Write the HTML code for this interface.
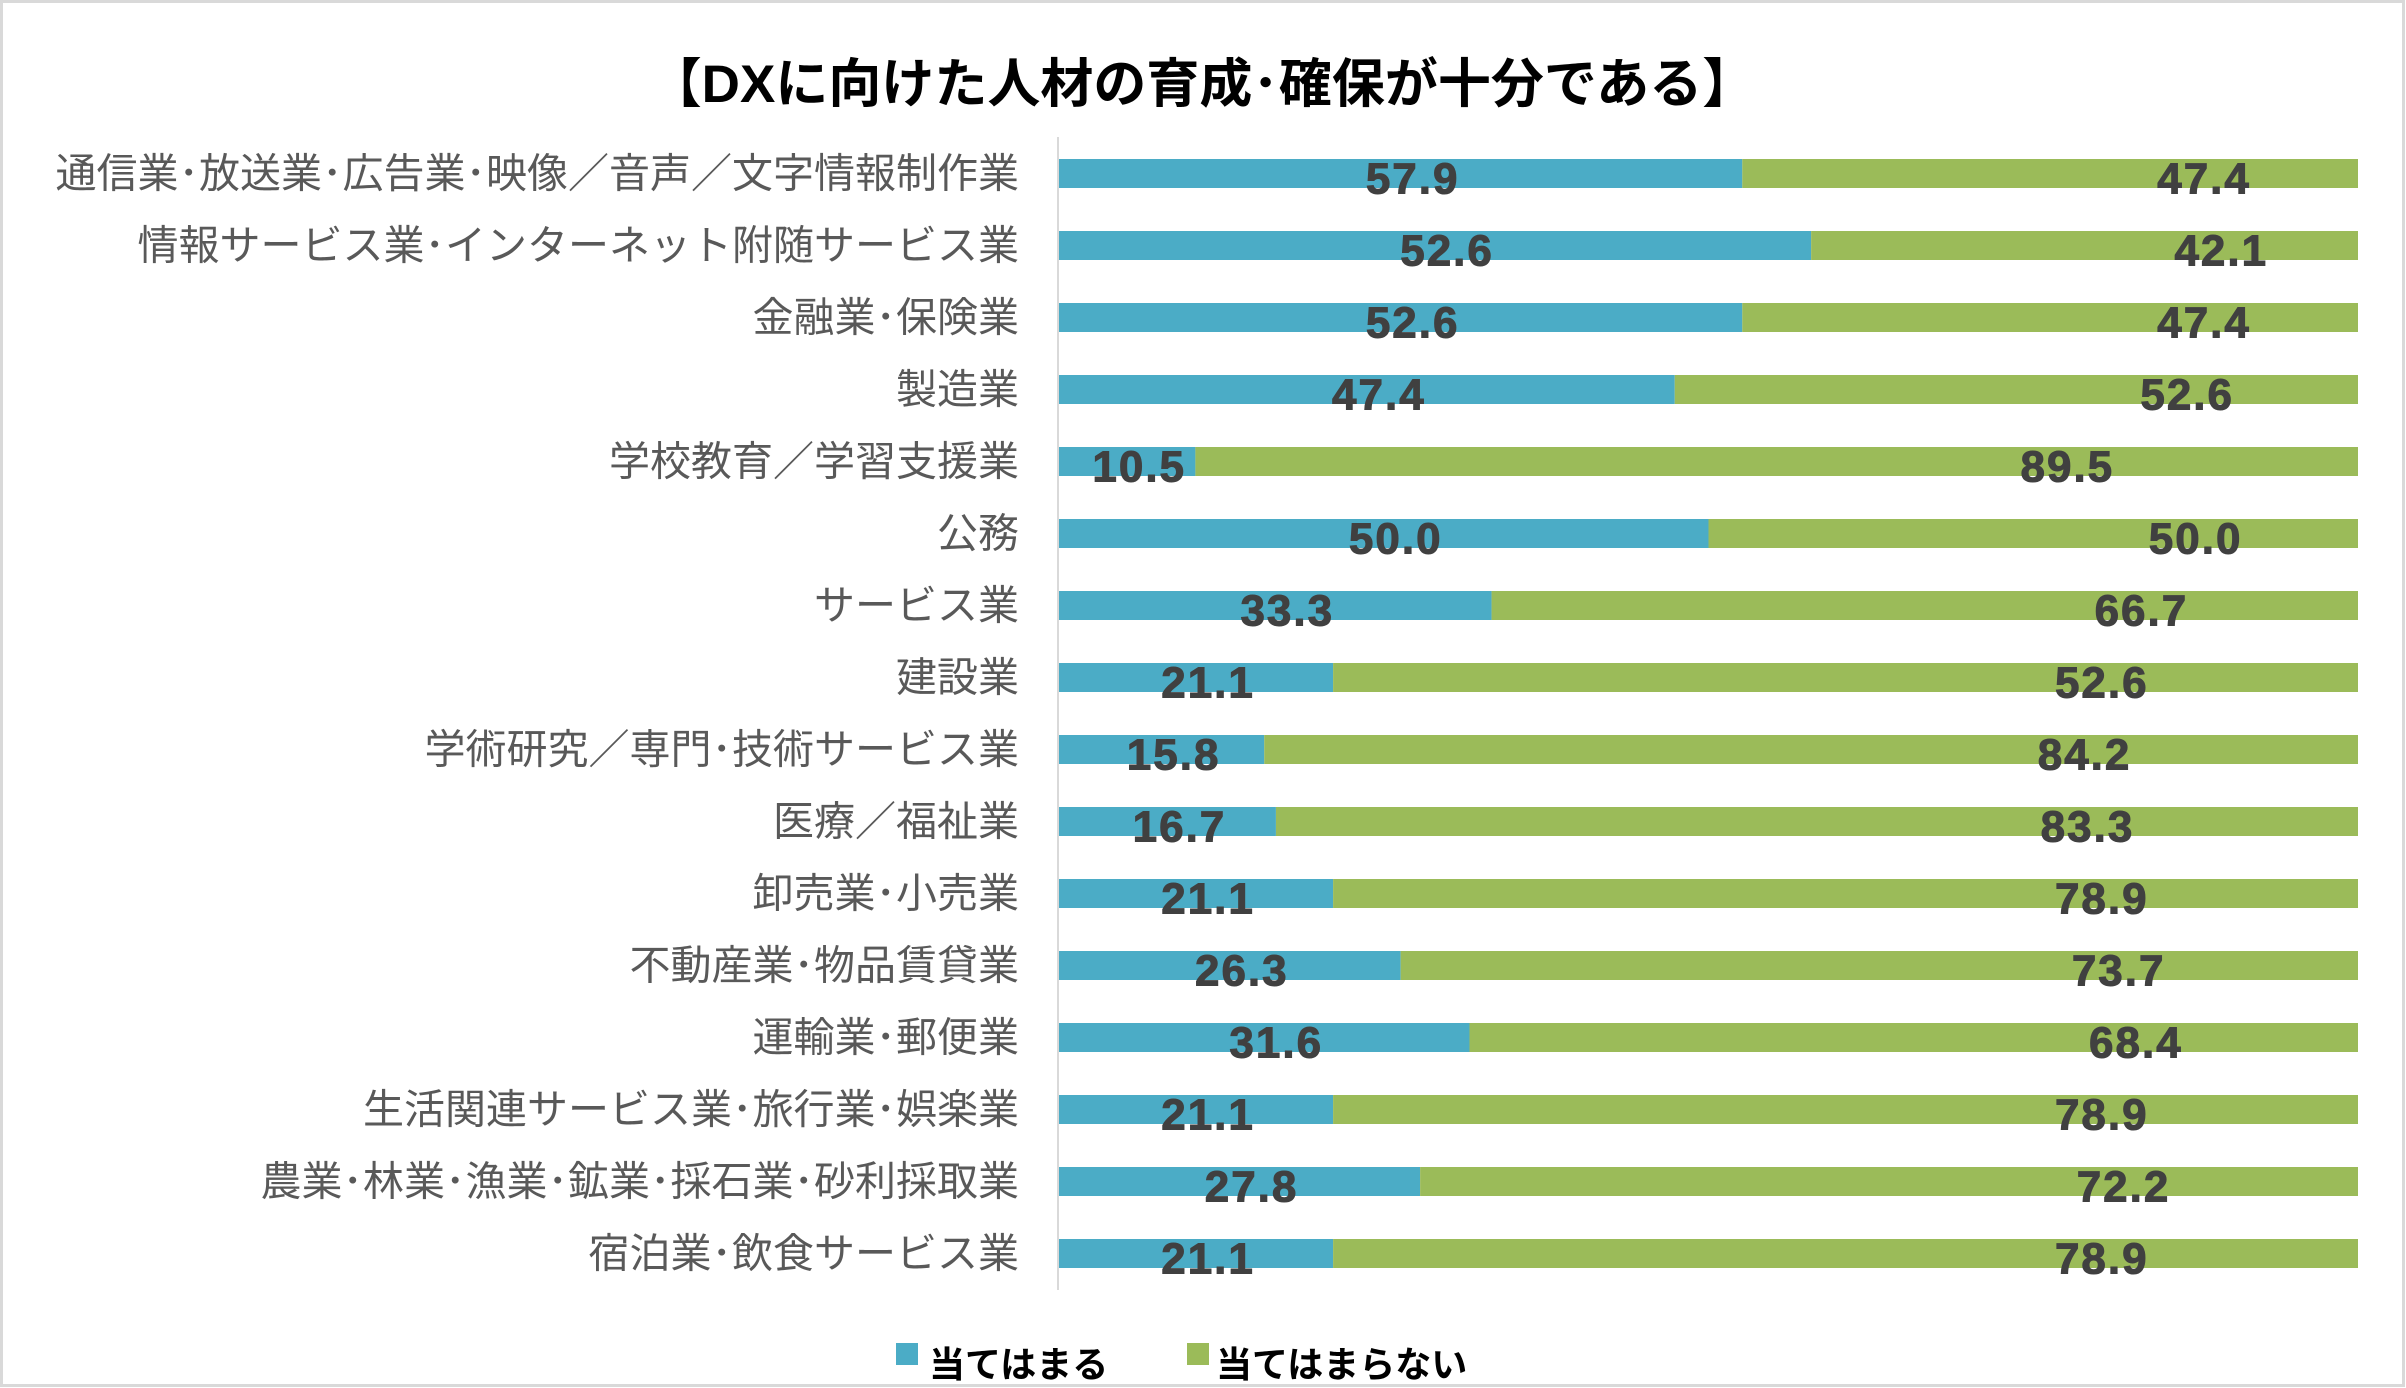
<!DOCTYPE html>
<html><head><meta charset="utf-8">
<style>
html,body{margin:0;padding:0;background:#fff;}
svg{display:block;}
</style></head>
<body>
<svg id="chart" width="2406" height="1388" viewBox="0 0 2406 1388" xmlns="http://www.w3.org/2000/svg">
<rect x="1.5" y="1.5" width="2402" height="1384" fill="#fff" stroke="#d9d9d9" stroke-width="3"/>
<text x="1202" y="102" text-anchor="middle" font-family="'Liberation Sans','Noto Sans CJK JP',sans-serif" font-weight="bold" font-size="53" fill="#000">【DXに向けた人材の育成･確保が十分である】</text>
<g id="bars"></g>
<line x1="1058" y1="137" x2="1058" y2="1290" stroke="#d9d9d9" stroke-width="2"/>
<g id="legend" font-family="'Liberation Sans','Noto Sans CJK JP',sans-serif" font-weight="bold" font-size="36" fill="#000">
<rect x="896" y="1343" width="22" height="22" fill="#4BACC6"/>
<text x="929" y="1377">当てはまる</text>
<rect x="1187" y="1343" width="22" height="22" fill="#9BBB59"/>
<text x="1216" y="1377">当てはまらない</text>
</g>
</svg>
<script>
const categories = ["通信業･放送業･広告業･映像／音声／文字情報制作業","情報サービス業･インターネット附随サービス業","金融業･保険業","製造業","学校教育／学習支援業","公務","サービス業","建設業","学術研究／専門･技術サービス業","医療／福祉業","卸売業･小売業","不動産業･物品賃貸業","運輸業･郵便業","生活関連サービス業･旅行業･娯楽業","農業･林業･漁業･鉱業･採石業･砂利採取業","宿泊業･飲食サービス業"];
const appliesValues = [52.6,57.9,52.6,47.4,10.5,50.0,33.3,21.1,15.8,16.7,21.1,26.3,31.6,21.1,27.8,21.1];
const notAppliesValues = [47.4,42.1,47.4,52.6,89.5,50.0,66.7,78.9,84.2,83.3,78.9,73.7,68.4,78.9,72.2,78.9];
const appliesLabels = ["57.9","52.6","52.6","47.4","10.5","50.0","33.3","21.1","15.8","16.7","21.1","26.3","31.6","21.1","27.8","21.1"];
const notAppliesLabels = ["47.4","42.1","47.4","52.6","89.5","50.0","66.7","52.6","84.2","83.3","78.9","73.7","68.4","78.9","72.2","78.9"];

const X0 = 1059, XW = 1299, Y0 = 173.5, PITCH = 72, BH = 29;
const NS = "http://www.w3.org/2000/svg";
const g = document.getElementById('bars');
function xs(v){ return X0 + v / 100 * XW; }
function yc(i){ return Y0 + i * PITCH; }
function mk(tag, attrs){ const e = document.createElementNS(NS, tag); for (const k in attrs) e.setAttribute(k, attrs[k]); g.appendChild(e); return e; }
const FONT = "'Liberation Sans','Noto Sans CJK JP',sans-serif";
categories.forEach((c, i) => {
  const tot = appliesValues[i] + notAppliesValues[i];
  const a = appliesValues[i] / tot * 100;
  const y = yc(i);
  const lab = mk('text', {x: 1019, y: y + 14, 'text-anchor': 'end', 'font-family': FONT, 'font-size': 41, fill: '#595959'});
  lab.textContent = c;
  
  
  const b1 = mk('rect', {x: xs(0), y: y - BH/2, width: xs(a) - xs(0), height: BH, fill: '#4BACC6'});
  
  
  const b2 = mk('rect', {x: xs(a), y: y - BH/2, width: xs(100) - xs(a), height: BH, fill: '#9BBB59'});
  
  
  const t1 = mk('text', {x: (xs(0) + xs(a)) / 2 + 12, y: y + 20, 'text-anchor': 'middle', 'font-family': FONT, 'font-weight': 'bold', 'font-size': 44, 'letter-spacing': 2, fill: '#404040', stroke: '#404040', 'stroke-width': 1});
  t1.textContent = appliesLabels[i];
  
  
  const t2 = mk('text', {x: xs(a) + (xs(100) - xs(a)) * 0.75, y: y + 20, 'text-anchor': 'middle', 'font-family': FONT, 'font-weight': 'bold', 'font-size': 44, 'letter-spacing': 2, fill: '#404040', stroke: '#404040', 'stroke-width': 1});
  t2.textContent = notAppliesLabels[i];
  
  
});
</script>
</body></html>
